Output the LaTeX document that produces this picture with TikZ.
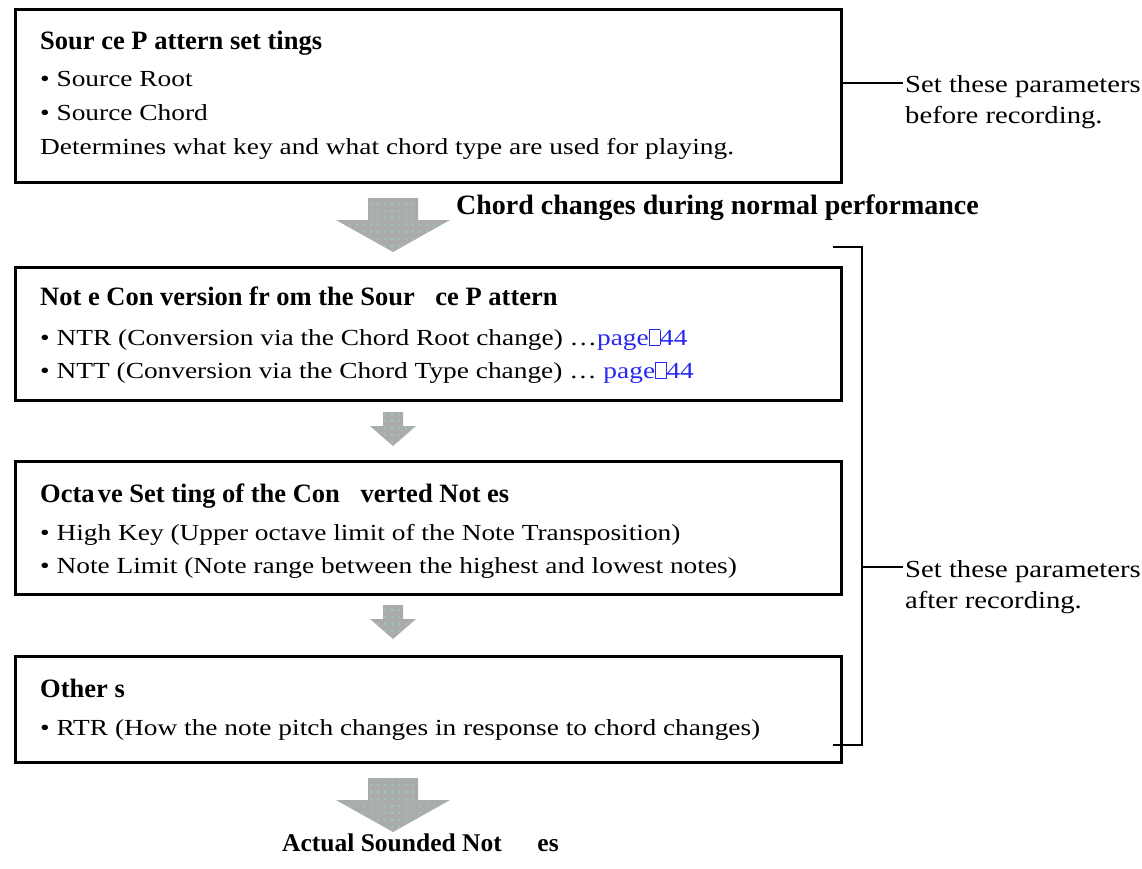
\documentclass[tikz,border=0pt]{standalone}
\usepackage{fontspec}
\setmainfont{Liberation Serif}
\newfontfamily\bodyf[FakeStretch=1.19]{Liberation Serif}
\newfontfamily\sidef[FakeStretch=1.17]{Liberation Serif}
\usetikzlibrary{calc,patterns.meta}
\definecolor{linkblue}{RGB}{40,40,240}
\definecolor{arrowgray}{RGB}{170,172,172}
\definecolor{dotcyan}{RGB}{150,210,212}
\newcommand\nobox{{\fboxsep=0pt\fboxrule=0.5pt\fbox{\rule{0pt}{0.66em}\hspace{0.45em}}}}
\newcommand\biggap{\hspace{0.78em}}
\tikzset{
  box/.style={draw=black, line width=3pt, minimum width=826pt, anchor=north west, inner sep=0pt},
  txt/.style={anchor=base west, inner sep=0pt, font=\bodyf\fontsize{23}{28}\selectfont},
  ttl/.style={anchor=base west, inner sep=0pt, font=\fontsize{26.5}{31}\selectfont\bfseries},
  side/.style={anchor=base west, inner sep=0pt, font=\sidef\fontsize{24.5}{29}\selectfont},
  head/.style={anchor=base west, inner sep=0pt, font=\fontsize{28}{33}\selectfont\bfseries},
  foot/.style={anchor=base west, inner sep=0pt, font=\fontsize{25.5}{30}\selectfont\bfseries},
  thin/.style={line width=1.2pt},
  bigarr/.pic={
    \path[fill=arrowgray] (-25,0) -- (25,0) -- (25,22) -- (57,22) -- (0,54) -- (-57,22) -- (-25,22) -- cycle;
    \path[pattern={Dots[radius=1pt,distance=7pt]}, pattern color=dotcyan] (-25,0) -- (25,0) -- (25,22) -- (57,22) -- (0,54) -- (-57,22) -- (-25,22) -- cycle;
  },
  smallarr/.pic={
    \path[fill=arrowgray] (-10,0) -- (10,0) -- (10,14) -- (23,14) -- (0,34) -- (-23,14) -- (-10,14) -- cycle;
    \path[pattern={Dots[radius=1pt,distance=7pt]}, pattern color=dotcyan] (-10,0) -- (10,0) -- (10,14) -- (23,14) -- (0,34) -- (-23,14) -- (-10,14) -- cycle;
  }
}
\begin{document}
\begin{tikzpicture}[x=1pt,y=-1pt]
\fill[white] (0,0) rectangle (1142,869);
\useasboundingbox (0,0) rectangle (1142,869);

% boxes
\node[box, minimum height=173pt] (b1) at (14,8) {};
\node[box, minimum height=133pt] (b2) at (14,266) {};
\node[box, minimum height=133pt] (b3) at (14,460) {};
\node[box, minimum height=106pt] (b4) at (14,655) {};

% box 1 text
\node[ttl] (t1) at (40,50) {Sour ce P attern set tings};
\node[txt] (t1a) at (40,87) {• Source Root};
\node[txt] (t1b) at (40,121) {• Source Chord};
\node[txt] (t1c) at (40,155) {Determines what key and what chord type are used for playing.};

% box 2 text
\node[ttl] (t2) at (40,305) {Not e Con version fr om the Sour\biggap ce P attern};
\node[txt] (t2a) at (40,345) {• NTR (Conversion via the Chord Root change) …\textcolor{linkblue}{page\nobox44}};
\node[txt] (t2b) at (40,378) {• NTT (Conversion via the Chord Type change) … \textcolor{linkblue}{page\nobox44}};

% box 3 text
\node[ttl] (t3) at (40,502) {Octa\hspace{0.12em}ve Set ting of the Con\biggap verted Not es};
\node[txt] (t3a) at (40,540) {• High Key (Upper octave limit of the Note Transposition)};
\node[txt] (t3b) at (40,573) {• Note Limit (Note range between the highest and lowest notes)};

% box 4 text
\node[ttl] (t4) at (40,697) {Other s};
\node[txt] (t4a) at (40,735) {• RTR (How the note pitch changes in response to chord changes)};

% arrows
\pic at (393,198) {bigarr};
\pic at (393,412) {smallarr};
\pic at (393,605) {smallarr};
\pic at (393,778) {bigarr};

\node[head] (chg) at (456,214) {Chord changes during normal performance};
\node[foot] (act) at (282,851) {Actual Sounded Not\hspace{1.4em}es};

% right side: before recording
\node[side] (s1a) at (905,93) {Set these parameters};
\node[side] (s1b) at (905,124) {before recording.};
\draw[thin] ($(s1a.base west)+(-2,-10)$) -- ($(b1.east |- s1a.base)+(0,-10)$);

% bracket: after recording
\coordinate (bt) at (833,247);
\coordinate (bb) at (833,745);
\coordinate (bx) at (862,0);
\draw[thin] (bt) -| (bx |- bb) -- (bb);
\node[side] (s2a) at (905,577) {Set these parameters};
\node[side] (s2b) at (905,608) {after recording.};
\draw[thin] ($(bx |- s2a.base)+(0,-10)$) -- ($(s2a.base west)+(-2,-10)$);
\end{tikzpicture}
\end{document}
